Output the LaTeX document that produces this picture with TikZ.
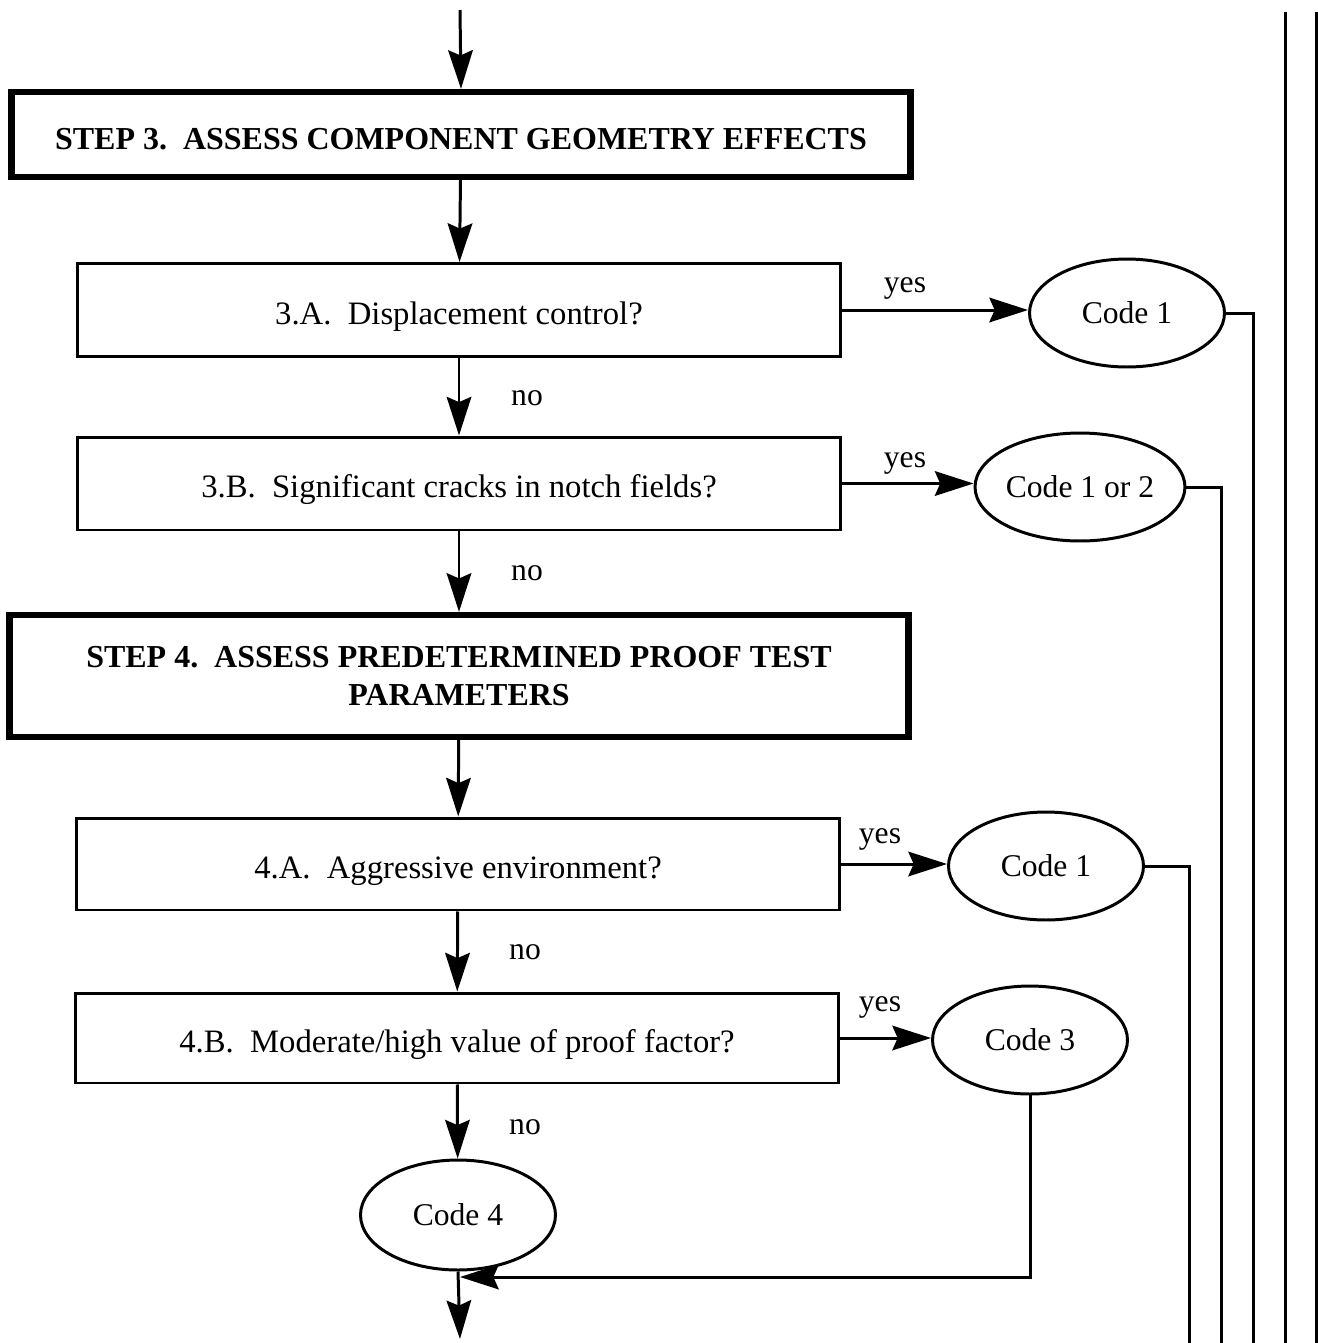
\documentclass[tikz,border=0pt]{standalone}
\usepackage{fontspec}
\setmainfont{Liberation Serif}
\usepackage{tikz}
\usetikzlibrary{shapes.geometric, arrows.meta, positioning, calc}
\tikzset{
    box/.style={rectangle, draw, line width=1.7pt, minimum width=15.25cm, minimum height=1.86cm, text centered, text height=20pt, text depth=3.9pt, font=\fontsize{18.6}{22}\selectfont},
    arrow/.style={line width=1.7pt,-{Stealth[length=22pt, width=14pt, inset=3pt]}}
}

\begin{document}
\begin{tikzpicture}[x=0.02cm, y=-0.02cm,
    stepbox/.style={rectangle, draw, line width=3.6pt, minimum width=17.98cm, align=center, font=\bfseries\fontsize{18.2}{22}\selectfont},
    codeoval/.style={ellipse, draw, line width=1.7pt, minimum width=3.9cm, minimum height=2.16cm, inner sep=0pt, font=\fontsize{18}{22}\selectfont},
    lbl/.style={font=\fontsize{18}{22}\selectfont},
    line/.style={line width=1.7pt}]
    \useasboundingbox (0,0) rectangle (1318,1343);

    % step 3
    \coordinate (start) at (460,10);
    \node (s3) [stepbox, minimum height=1.7cm, text height=17.6pt, text depth=0pt] at (461,134.5) {STEP 3.\ \ ASSESS COMPONENT GEOMETRY EFFECTS};
    \node (q3a) [box] at (459,310) {3.A.\ \ Displacement control?};
    \node (q3b) [box] at (459,483.5) {3.B.\ \ Significant cracks in notch fields?};
    \node (c1a) [codeoval] at (1127,313) {Code 1};
    \node (c12) [codeoval] at (1080,487) {Code 1 or 2};

    % step 4
    \node (s4) [stepbox, minimum height=2.44cm] at (459,676) {STEP 4.\ \ ASSESS PREDETERMINED PROOF TEST\\PARAMETERS};
    \node (q4a) [box, minimum height=1.84cm] at (458,864) {4.A.\ \ Aggressive environment?};
    \node (q4b) [box, minimum height=1.8cm] at (457,1038) {4.B.\ \ Moderate/high value of proof factor?};
    \node (c1b) [codeoval] at (1046,866) {Code 1};
    \node (c3) [codeoval] at (1030,1040) {Code 3};
    \node (c4) [codeoval, minimum height=2.2cm] at (458,1215) {Code 4};

    \coordinate (merge) at (460,1277);
    \coordinate (finish) at (460,1339);

    % main column
    \draw [arrow] (start) -- (s3.north);
    \draw [arrow] (s3) -- (q3a);
    \draw [arrow] (q3a) -- (q3b);
    \draw [arrow] (q3b) -- (s4);
    \draw [arrow] (s4) -- (q4a);
    \draw [arrow] (q4a) -- (q4b);
    \draw [arrow] (q4b) -- (c4);
    \draw [arrow] (c4.south) -- (finish);

    % yes branches
    \draw [arrow] (q3a.east) -- (q3a.east -| c1a.west);
    \draw [arrow] (q3b.east) -- (q3b.east -| c12.west);
    \draw [arrow] (q4a.east) -- (q4a.east -| c1b.west);
    \draw [arrow] (q4b.east) -- (q4b.east -| c3.west);
    \draw [arrow] (c3.south) |- (merge);

    \node [lbl] at (905,288) {yes};
    \node [lbl] at (905,463) {yes};
    \node [lbl] at (880,839) {yes};
    \node [lbl] at (880,1007) {yes};
    \node [lbl] at (527,398) {no};
    \node [lbl] at (527,573) {no};
    \node [lbl] at (525,952) {no};
    \node [lbl] at (525,1127) {no};

    % lines to the right
    \coordinate (r1) at (1253,1343);
    \coordinate (r2) at (1221,1343);
    \coordinate (r3) at (1189,1343);
    \draw [line] (c1a.east) -| (r1);
    \draw [line] (c12.east) -| (r2);
    \draw [line] (c1b.east) -| (r3);
    \coordinate (r4a) at (1285,12);
    \coordinate (r4b) at (1285,1343);
    \coordinate (r5a) at (1316,12);
    \coordinate (r5b) at (1316,1343);
    \draw [line] (r4a) -- (r4b);
    \draw [line] (r5a) -- (r5b);
\end{tikzpicture}
\end{document}
